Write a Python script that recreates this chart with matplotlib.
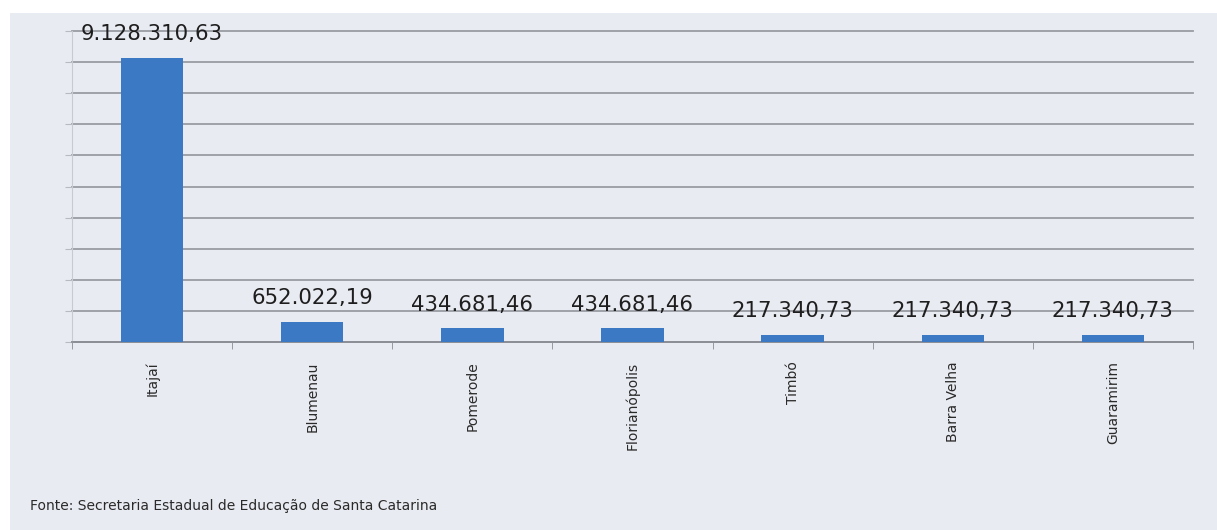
import matplotlib
matplotlib.use("Agg")
import matplotlib.pyplot as plt
from matplotlib.patches import Rectangle
import numpy as np

categories = ["Itajaí", "Blumenau", "Pomerode", "Florianópolis", "Timbó", "Barra Velha", "Guaramirim"]
values = [9128310.63, 652022.19, 434681.46, 434681.46, 217340.73, 217340.73, 217340.73]
value_labels = ["9.128.310,63", "652.022,19", "434.681,46", "434.681,46", "217.340,73", "217.340,73", "217.340,73"]
source = "Fonte: Secretaria Estadual de Educação de Santa Catarina"

W, H = 1217, 530
fig = plt.figure(figsize=(W / 100, H / 100), dpi=100)
fig.patch.set_facecolor("white")
bg = "#e9ebf2"
fig.patches.append(Rectangle((10 / W, 0), 1 - 10 / W, 1 - 13 / H, transform=fig.transFigure,
                             facecolor=bg, edgecolor="none", zorder=-10))

ax = fig.add_axes([72 / W, (H - 342) / H, (1193 - 72) / W, (342 - 31) / H])
ax.set_zorder(2)
ax.patch.set_alpha(0)

x = np.arange(len(categories))
ax.bar(x, values, width=0.39, color="#3b79c5", zorder=3)
ax.set_xlim(-0.5, len(categories) - 0.5)
ax.set_ylim(0, 10_000_000)
ax.set_yticks(np.arange(0, 10_000_001, 1_000_000))
ax.set_yticklabels([])
ax.grid(axis="y", color="#9a9ca4", linewidth=1.3, zorder=1)
for gl in ax.get_ygridlines():
    gl.set_clip_on(False)
ax.tick_params(axis="y", length=5, color="#b8bac2", direction="out")

ax.set_xticks(x)
ax.set_xticklabels(categories, rotation=90, fontsize=10, color="#2a2a2a", family="DejaVu Sans")
ax.set_xticks(np.arange(-0.5, len(categories)), minor=True)
ax.tick_params(axis="x", which="major", length=0, pad=14)
ax.tick_params(axis="x", which="minor", length=5, color="#8a8c94", direction="out")

for s in ["top", "right"]:
    ax.spines[s].set_visible(False)
ax.spines["left"].set_color("#c8cad2")
ax.spines["bottom"].set_color("#8a8c94")
ax.spines["bottom"].set_linewidth(1.2)

for xi, v, lab in zip(x, values, value_labels):
    ax.annotate(lab, (xi, v), xytext=(0, 10), textcoords="offset points",
                ha="center", va="bottom", fontsize=15.3, color="#1e1e1e", zorder=5)

fig.text(30 / W, 1 - 506 / H, source, fontsize=10, color="#2a2a2a", va="center", ha="left")

fig.savefig("out.png", dpi=100, facecolor="white")
